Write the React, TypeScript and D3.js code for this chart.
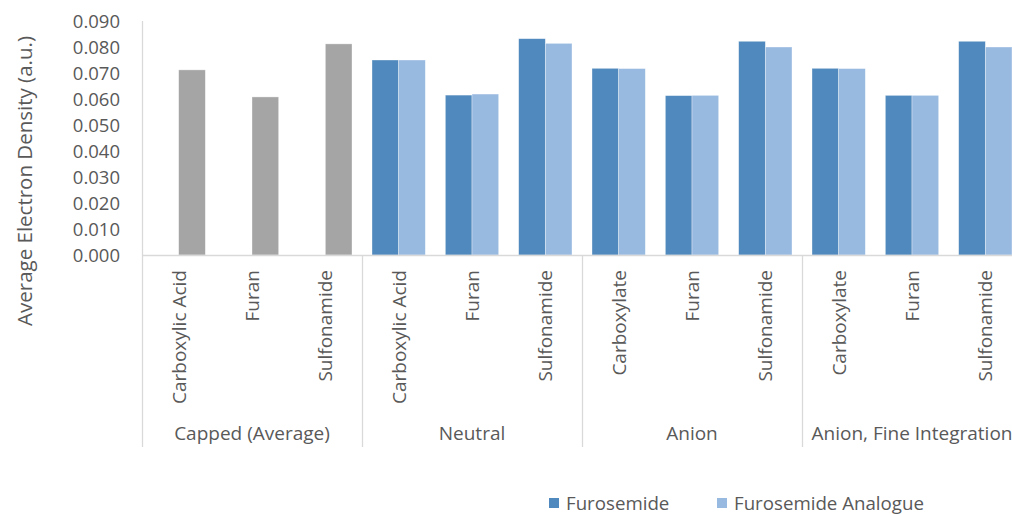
import React, { useEffect, useRef } from 'react';
import * as d3 from 'd3';

const groups = ['Capped (Average)', 'Neutral', 'Anion', 'Anion, Fine Integration'];
const categories = [
  ['Carboxylic Acid', 'Furan', 'Sulfonamide'],
  ['Carboxylic Acid', 'Furan', 'Sulfonamide'],
  ['Carboxylate', 'Furan', 'Sulfonamide'],
  ['Carboxylate', 'Furan', 'Sulfonamide'],
];
const series = ['Furosemide', 'Furosemide Analogue'];
const cappedValues = [0.0712, 0.0608, 0.0812];
const furosemide = [null, null, null, 0.075, 0.0615, 0.0832, 0.0718, 0.0613, 0.0822, 0.0718, 0.0614, 0.0822];
const analogue = [null, null, null, 0.075, 0.0619, 0.0814, 0.0717, 0.0614, 0.080, 0.0717, 0.0614, 0.080];
const yTicks = [0, 0.01, 0.02, 0.03, 0.04, 0.05, 0.06, 0.07, 0.08, 0.09];

const colors = { Furosemide: '#4f89bd', 'Furosemide Analogue': '#98b9e0', capped: '#a5a5a5' };
const textColor = '#595959';
const axisColor = '#d9d9d9';
const font = '"Open Sans", sans-serif';

const App: React.FC = () => {
  const svgRef = useRef<SVGSVGElement>(null);

  useEffect(() => {
    document.body.style.margin = '0';
    if (!svgRef.current) return;
    const svg = d3.select(svgRef.current);
    svg.selectAll('*').remove();

    const left = 142;
    const top = 21;
    const baseY = 255;
    const groupW = 220;

    const y = d3.scaleLinear().domain([0, 0.09]).range([baseY, top]);
    const x0 = d3.scaleBand<string>().domain(groups).range([left, left + groupW * groups.length]);
    const x1 = d3.scaleBand<number>().domain([0, 1, 2]).range([0, x0.bandwidth()]);
    const x2 = d3.scaleBand<string>().domain(series).range([0, x1.bandwidth()]).paddingOuter(0.375);

    const g = svg.append('g');

    // y axis
    g.append('line')
      .attr('x1', left + 0.5).attr('x2', left + 0.5)
      .attr('y1', top).attr('y2', baseY)
      .attr('stroke', axisColor).attr('stroke-width', 1.3);
    g.selectAll('text.ytick')
      .data(yTicks)
      .enter()
      .append('text')
      .attr('class', 'ytick')
      .attr('x', 120)
      .attr('y', d => y(d))
      .attr('dy', '0.36em')
      .attr('text-anchor', 'end')
      .attr('font-family', font)
      .attr('font-size', 18.5)
      .attr('fill', textColor)
      .text(d => d3.format('.3f')(d));

    g.append('text')
      .attr('transform', `translate(32,181) rotate(-90)`)
      .attr('text-anchor', 'middle')
      .attr('font-family', font)
      .attr('font-size', 20.5)
      .attr('fill', textColor)
      .text('Average Electron Density (a.u.)');

    // bars
    const bars: { gi: number; ci: number; s: string; v: number; color: string }[] = [];
    groups.forEach((_, gi) => {
      categories[gi].forEach((__, ci) => {
        const idx = gi * 3 + ci;
        if (gi === 0) {
          bars.push({ gi, ci, s: 'Furosemide Analogue', v: cappedValues[ci], color: colors.capped });
        } else {
          const f = furosemide[idx];
          const a = analogue[idx];
          if (f != null) bars.push({ gi, ci, s: 'Furosemide', v: f, color: colors.Furosemide });
          if (a != null) bars.push({ gi, ci, s: 'Furosemide Analogue', v: a, color: colors['Furosemide Analogue'] });
        }
      });
    });

    g.selectAll('rect.bar')
      .data(bars)
      .enter()
      .append('rect')
      .attr('class', 'bar')
      .attr('x', d => (x0(groups[d.gi]) as number) + (x1(d.ci) as number) + (x2(d.s) as number))
      .attr('y', d => y(d.v))
      .attr('width', x2.bandwidth())
      .attr('height', d => baseY - y(d.v))
      .attr('fill', d => d.color)
      .attr('stroke', '#ffffff')
      .attr('stroke-opacity', 0.5)
      .attr('stroke-width', 0.7);

    // x axis baseline
    g.append('line')
      .attr('x1', left).attr('x2', 1012)
      .attr('y1', baseY + 0.5).attr('y2', baseY + 0.5)
      .attr('stroke', axisColor).attr('stroke-width', 1.3);

    // group separators
    const seps = groups.map(gr => x0(gr) as number);
    g.selectAll('line.sep')
      .data(seps)
      .enter()
      .append('line')
      .attr('class', 'sep')
      .attr('x1', d => d + 0.5).attr('x2', d => d + 0.5)
      .attr('y1', baseY).attr('y2', 447)
      .attr('stroke', axisColor).attr('stroke-width', 1.3);

    // category labels
    groups.forEach((gr, gi) => {
      categories[gi].forEach((cat, ci) => {
        const cx = (x0(gr) as number) + (x1(ci) as number) + x1.bandwidth() / 2;
        g.append('text')
          .attr('transform', `translate(${cx},270) rotate(-90)`)
          .attr('text-anchor', 'end')
          .attr('dy', '0.36em')
          .attr('font-family', font)
          .attr('font-size', 19)
          .attr('fill', textColor)
          .text(cat);
      });
      g.append('text')
        .attr('x', (x0(gr) as number) + x0.bandwidth() / 2)
        .attr('y', 433)
        .attr('dy', '0.36em')
        .attr('text-anchor', 'middle')
        .attr('font-family', font)
        .attr('font-size', 19)
        .attr('fill', textColor)
        .text(gr);
    });

    // legend
    const legendX = [549, 717];
    series.forEach((s, i) => {
      g.append('rect')
        .attr('x', legendX[i]).attr('y', 498)
        .attr('width', 10).attr('height', 10)
        .attr('fill', colors[s as keyof typeof colors]);
      g.append('text')
        .attr('x', legendX[i] + 17)
        .attr('y', 503)
        .attr('dy', '0.36em')
        .attr('font-family', font)
        .attr('font-size', 18.7)
        .attr('fill', textColor)
        .text(s);
    });
  }, []);

  return <svg ref={svgRef} width={1012} height={514} style={{ display: 'block' }} />;
};

export default App;
